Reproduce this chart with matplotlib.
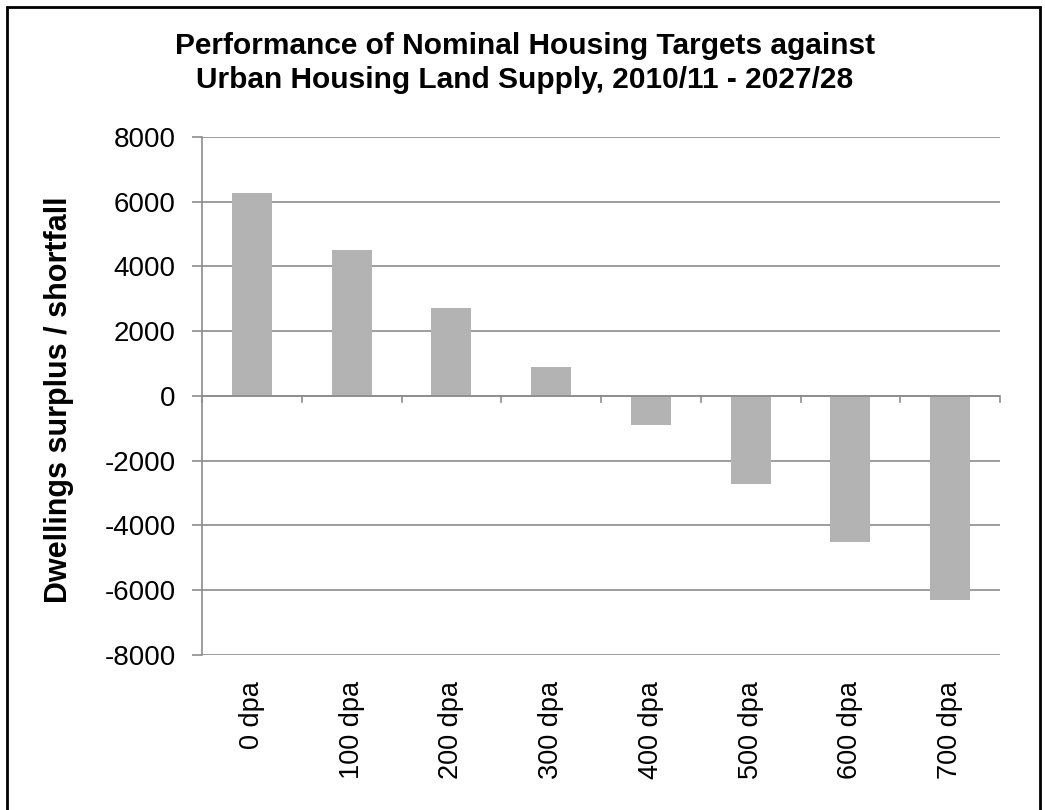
import matplotlib.pyplot as plt
import numpy as np
from matplotlib.patches import Rectangle

categories = ['0 dpa', '100 dpa', '200 dpa', '300 dpa', '400 dpa', '500 dpa', '600 dpa', '700 dpa']
surplus = [6270, 4510, 2710, 885, -900, -2720, -4520, -6305]
yticks = [-8000, -6000, -4000, -2000, 0, 2000, 4000, 6000, 8000]

plt.rcParams['font.family'] = ['Liberation Sans', 'DejaVu Sans']

fig = plt.figure(figsize=(10.45, 8.10), dpi=100)
ax = fig.add_axes([0.1933, 0.1914, 0.7637, 0.6395])

x = np.arange(len(categories))
ax.bar(x, surplus, width=0.4, color='#b3b3b3', zorder=3)

ax.set_xlim(-0.5, len(categories) - 0.5)
ax.set_ylim(-8000, 8000)
ax.set_yticks(yticks)
ax.set_yticklabels([str(v) for v in yticks], fontsize=20)
ax.yaxis.grid(True, color='#8c8c8c', linewidth=1.2, zorder=0)

# category labels sit below the plot area, ticks sit on the zero line
ax.set_xticks([])
for i, c in enumerate(categories):
    ax.text(i, -8800, c, rotation=90, ha='center', va='top', fontsize=19.5)
for b in np.arange(-0.5, len(categories), 1.0):
    ax.plot([b, b], [0, -190], color='#8c8c8c', linewidth=1.2, zorder=4, clip_on=False)
ax.axhline(0, color='#8c8c8c', linewidth=1.2, zorder=4)

for s in ['top', 'right', 'bottom']:
    ax.spines[s].set_visible(False)
ax.spines['left'].set_color('#8c8c8c')
ax.spines['left'].set_linewidth(1.2)
ax.tick_params(axis='y', colors='#8c8c8c', labelcolor='black', length=7, width=1.2, pad=12)

fig.text(0.0565, 0.506, 'Dwellings surplus / shortfall', rotation=90, ha='center', va='center',
         fontsize=22, fontweight='bold')

fig.text(0.502, 0.922, 'Performance of Nominal Housing Targets against\nUrban Housing Land Supply, 2010/11 - 2027/28',
         ha='center', va='center', fontsize=21.5, fontweight='bold', linespacing=1.25)

fig.patches.append(Rectangle((0.007, -0.01), 0.988, 1.001, transform=fig.transFigure,
                             fill=False, edgecolor='black', linewidth=2))

fig.savefig('out.png', dpi=100)
